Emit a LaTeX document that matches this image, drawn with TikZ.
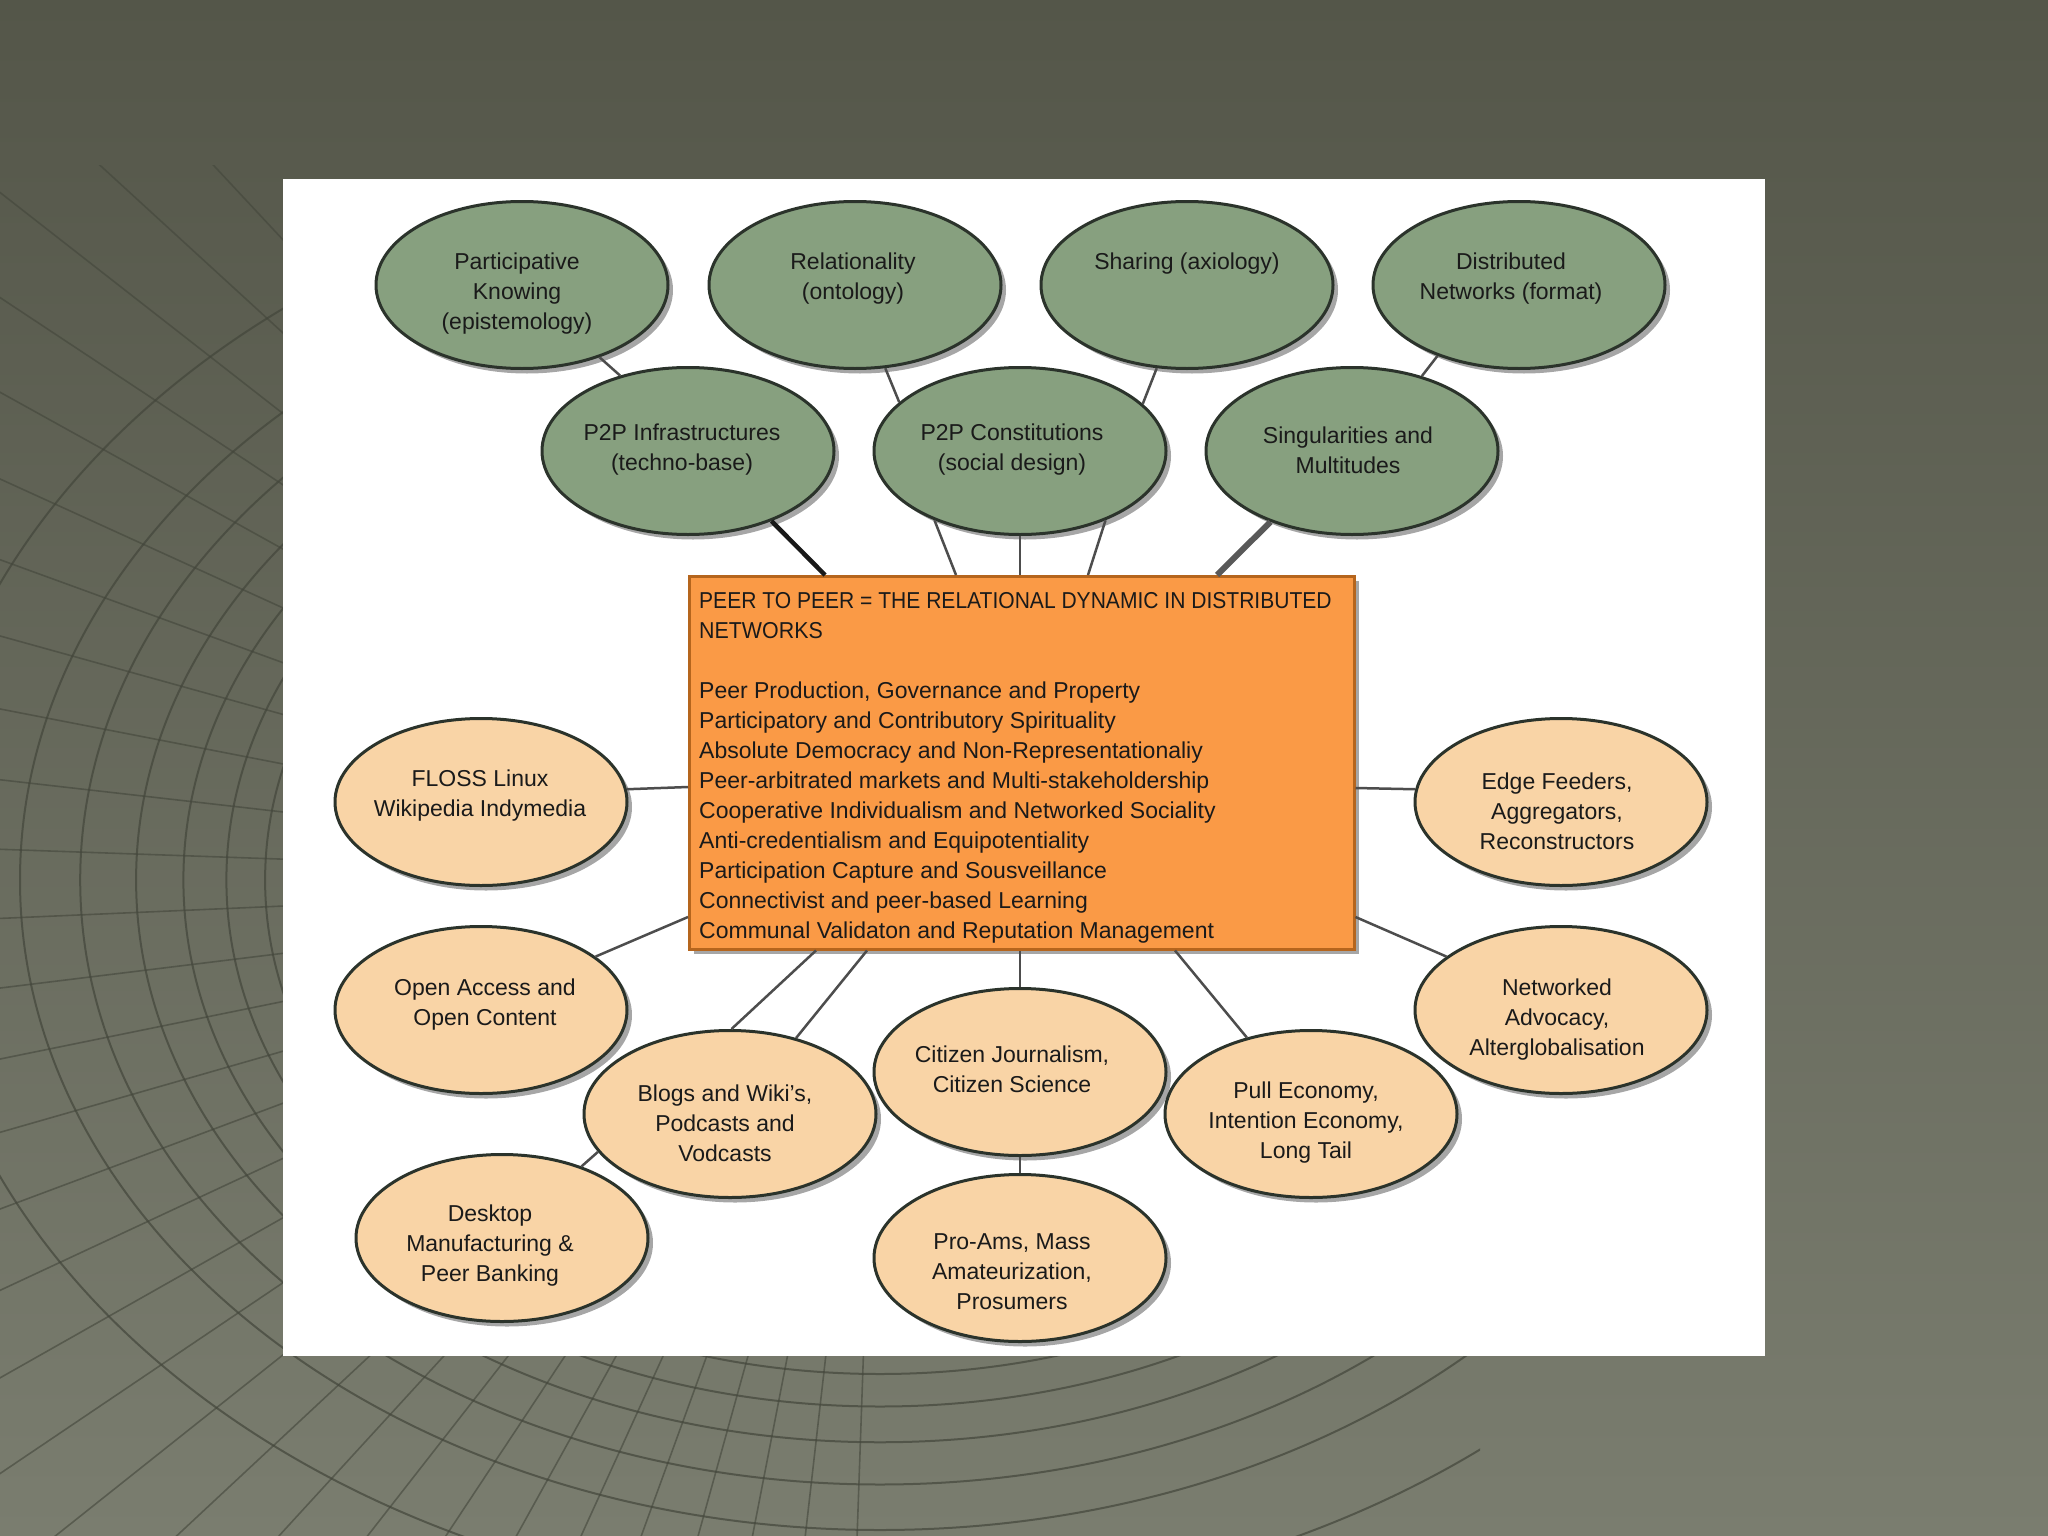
\documentclass[tikz,border=0pt]{standalone}
\usepackage{fontspec}
\usepackage{graphicx}
\setmainfont{Liberation Sans}
\usetikzlibrary{shapes.geometric,shadows,calc}
\definecolor{bgtop}{HTML}{545649}
\definecolor{bgbot}{HTML}{7A7D6F}
\definecolor{gridc}{HTML}{43463B}
\definecolor{ellgreen}{HTML}{87A07F}
\definecolor{ellpeach}{HTML}{F9D4A6}
\definecolor{ellborder}{HTML}{2B332B}
\definecolor{boxfill}{HTML}{FA9A46}
\definecolor{boxborder}{HTML}{B5651D}
\definecolor{linegray}{HTML}{4D4D4D}
\definecolor{txtc}{HTML}{1A1A1A}
\begin{document}
\begin{tikzpicture}[x=1pt,y=-1pt,
  ell/.style={ellipse, draw=ellborder, line width=3pt, minimum width=292pt, minimum height=167pt, inner sep=0pt,
    drop shadow={shadow xshift=5pt, shadow yshift=-5pt, opacity=0.35, fill=black}},
  gell/.style={ell, fill=ellgreen},
  pell/.style={ell, fill=ellpeach},
  lbl/.style={align=center, font=\fontsize{23}{30}\selectfont, inner sep=0pt, text=txtc},
  conn/.style={draw=linegray, line width=2.5pt},
  darkconn/.style={draw=black!90, line width=4.5pt},
  wideconn/.style={draw=black!65, line width=6pt},
  boxstyle/.style={rectangle, draw=boxborder, line width=2.5pt, fill=boxfill, inner sep=0pt,
    drop shadow={shadow xshift=5pt, shadow yshift=-5pt, opacity=0.35, fill=black}},
  gridline/.style={draw=gridc, line width=2pt, opacity=0.7},
]
% background
\fill[top color=bgtop, bottom color=bgbot] (0,0) rectangle (2048,1536);
\begin{scope}
  \clip (0,165) -- (300,165) -- (300,1350) -- (1480,1350) -- (1480,1536) -- (0,1536) -- cycle;
  \foreach \f in {1.12,1.0,0.93,0.865,0.81,0.76,0.715,0.68,0.65,0.62} {
    \draw[gridline] (880,880) ellipse [x radius=860*\f, y radius=650*\f];
  }
  \foreach \a in {92,96.5,...,300} {
    \draw[gridline, line width=1.6pt, opacity=0.6] (880,880) -- ++(\a:1500);
  }
\end{scope}
% white panel
\fill[white] (283,179) rectangle (1765,1356);

% central box
\node[boxstyle, anchor=north west, minimum width=665pt, minimum height=373pt] (box) at (688,575) {};
\node[anchor=north west, align=left, inner sep=0pt, text=txtc, font=\fontsize{23}{30}\selectfont] (boxtxt) at (699,592)
{\scalebox{0.915}[1]{PEER TO PEER = THE RELATIONAL DYNAMIC IN DISTRIBUTED}\\\scalebox{0.93}[1]{NETWORKS}\\[30pt]
Peer Production, Governance and Property\\
Participatory and Contributory Spirituality\\
Absolute Democracy and Non-Representationaliy\\
Peer-arbitrated markets and Multi-stakeholdership\\
Cooperative Individualism and Networked Sociality\\
Anti-credentialism and Equipotentiality\\
Participation Capture and Sousveillance\\
Connectivist and peer-based Learning\\
Communal Validaton and Reputation Management};

% green ellipses
\node[gell] (pk) at (522,285) {};
\node[gell] (rel) at (855,285) {};
\node[gell] (sh) at (1187,285) {};
\node[gell] (dist) at (1519,285) {};
\node[gell] (p2pi) at (688,451) {};
\node[gell] (p2pc) at (1020,451) {};
\node[gell] (sing) at (1352,451) {};

% peach ellipses
\node[pell] (floss) at (481,802) {};
\node[pell] (edge) at (1561,802) {};
\node[pell] (oa) at (481,1010) {};
\node[pell] (na) at (1561,1010) {};
\node[pell] (blogs) at (730,1114) {};
\node[pell] (cj) at (1020,1072) {};
\node[pell] (pull) at (1311,1114) {};
\node[pell] (desk) at (502,1238) {};
\node[pell] (pa) at (1020,1258) {};

% labels
\node[lbl] (pkt) at (517,294) {Participative\\Knowing\\(epistemology)};
\node[lbl] (relt) at (853,279) {Relationality\\(ontology)};
\node[lbl] (sht) at (1187,264) {Sharing (axiology)};
\node[lbl] (distt) at (1511,279) {Distributed\\Networks (format)};
\node[lbl] (p2pit) at (682,450) {P2P Infrastructures\\(techno-base)};
\node[lbl] (p2pct) at (1012,450) {P2P Constitutions\\(social design)};
\node[lbl] (singt) at (1348,450) {Singularities and\\Multitudes};
\node[lbl] (flosst) at (480,796) {FLOSS Linux\\Wikipedia Indymedia};
\node[lbl] (edget) at (1557,811) {Edge Feeders,\\Aggregators,\\Reconstructors};
\node[lbl] (oat) at (485,1005) {Open Access and\\Open Content};
\node[lbl] (nat) at (1557,1020) {Networked\\Advocacy,\\Alterglobalisation};
\node[lbl] (blogst) at (725,1123) {Blogs and Wiki's,\\Podcasts and\\Vodcasts};
\node[lbl] (cjt) at (1012,1069) {Citizen Journalism,\\Citizen Science};
\node[lbl] (pullt) at (1306,1123) {Pull Economy,\\Intention Economy,\\Long Tail};
\node[lbl] (deskt) at (490,1246) {Desktop\\Manufacturing \&\\Peer Banking};
\node[lbl] (pat) at (1012,1272) {Pro-Ams, Mass\\Amateurization,\\Prosumers};

% connectors among green ellipses
\draw[conn] (pk.-43) -- (p2pi.132);
\draw[conn] (rel.-70) -- (p2pc.158);
\draw[conn] (sh.-110) -- (p2pc.21);
\draw[conn] (dist.-139) -- (sing.47);
% to central box (top)
\draw[darkconn] (p2pi.-40) -- ($(box.north west)+(137,0)$);
\draw[conn] (p2pc.-141) -- ($(box.north west)+(268,0)$);
\draw[conn] (p2pc.south) -- (p2pc.south |- box.north);
\draw[conn] (p2pc.-39) -- ($(box.north west)+(400,0)$);
\draw[wideconn] (sing.-139) -- ($(box.north west)+(529,0)$);
% sides
\draw[conn] (floss.5) -- ($(box.north west)+(0,212)$);
\draw[conn] (oa.25) -- ($(box.north west)+(0,342)$);
\draw[conn] (edge.175) -- ($(box.north east)+(0,213)$);
\draw[conn] (na.155) -- ($(box.north east)+(0,342)$);
% bottom
\draw[conn] (blogs.89) -- ($(box.south west)+(128,0)$);
\draw[conn] (blogs.49) -- ($(box.south west)+(179,0)$);
\draw[conn] (cj.north) -- (cj.north |- box.south);
\draw[conn] (pull.130) -- ($(box.south west)+(487,0)$);
\draw[conn] (blogs.-164) -- (desk.42);
\draw[conn] (cj.south) -- (pa.north);
\end{tikzpicture}
\end{document}
